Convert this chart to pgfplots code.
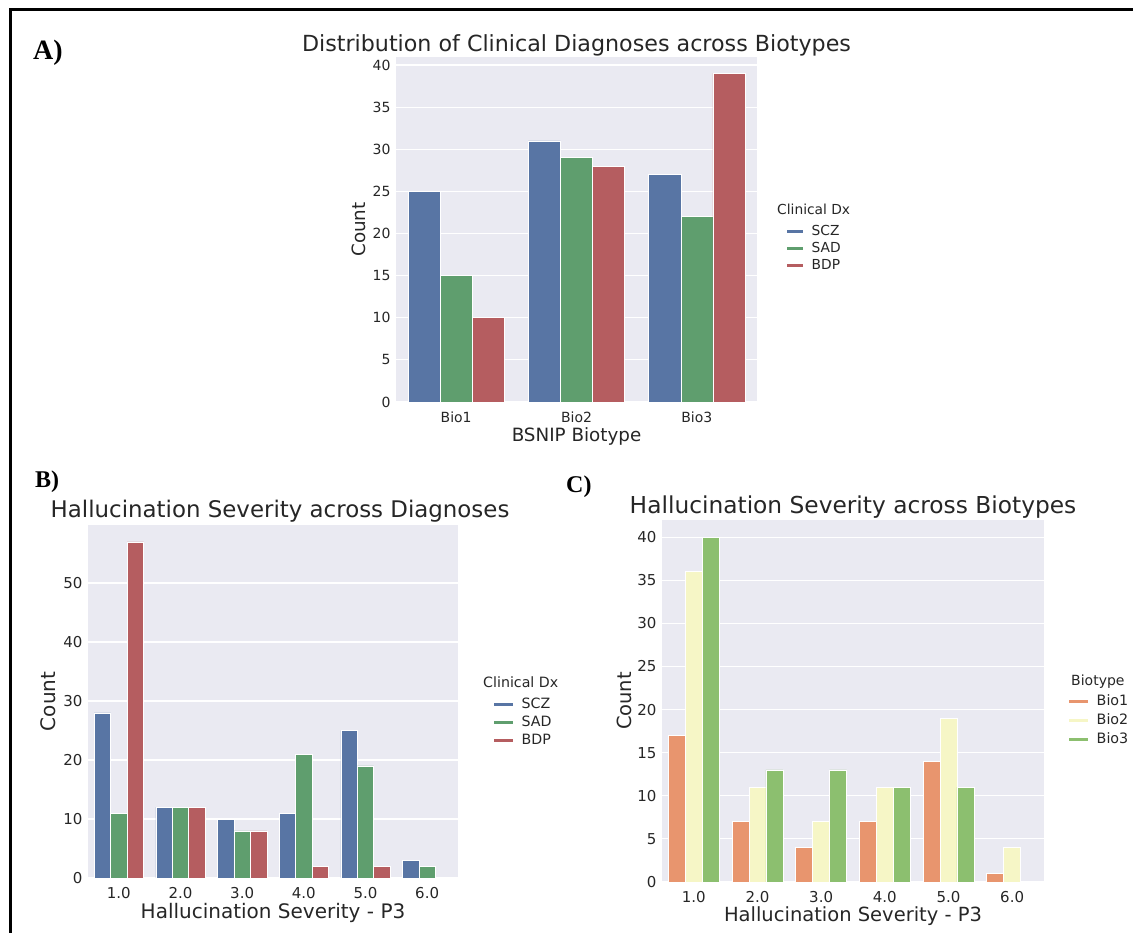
\documentclass[border=0pt]{standalone}
\usepackage{pgfplots}
\pgfplotsset{compat=1.18}
\usepackage{fontspec}
\setmainfont{DejaVu Sans}
\newfontfamily\panelfont{Liberation Serif}
\definecolor{scz}{RGB}{88,117,164}
\definecolor{sad}{RGB}{95,158,110}
\definecolor{bdp}{RGB}{181,93,96}
\definecolor{bioone}{RGB}{232,149,110}
\definecolor{biotwo}{RGB}{246,246,198}
\definecolor{biothree}{RGB}{140,191,111}
\definecolor{bg}{RGB}{234,234,242}
\definecolor{txt}{RGB}{38,38,38}
\newcommand{\fs}[1]{\fontsize{#1}{#1}\selectfont}
\pgfplotsset{
  sns/.style={
    scale only axis,
    axis background/.style={fill=bg},
    axis line style={draw=none},
    major tick length=0pt,
    ymajorgrids,
    major grid style={white, line width=1.2pt},
    ymin=0,
    ybar, bar width=0.2667,
    /pgf/number format/assume math mode=true,
    ticklabel style={text=txt},
    every axis label/.append style={text=txt},
    title style={text=txt, anchor=base, inner sep=0pt},
    xlabel style={anchor=base, inner sep=0pt},
    ylabel style={anchor=south, inner sep=0pt},
    legend cell align=left,
    legend style={draw=none, fill=none, text=txt, inner sep=0pt, anchor=north west,
        nodes={inner sep=0pt, text height=10pt, text depth=2pt}},
    every axis plot/.append style={draw=white, line width=0.5pt},
  }
}
\begin{document}
\begin{tikzpicture}[x=1pt,y=1pt]
\useasboundingbox (0,0) rectangle (1133,933);
% frame
\draw[line width=3.5pt] (10.5,0) -- (10.5,923.5) -- (1133,923.5);
% panel letters
\node[anchor=base west, inner sep=0pt] at (33,873) {\panelfont\bfseries\fs{28}A)};
\node[anchor=base west, inner sep=0pt] at (35,445) {\panelfont\bfseries\fs{24}B)};
\node[anchor=base west, inner sep=0pt] at (566,440) {\panelfont\bfseries\fs{24}C)};

% ---------------- Panel A ----------------
\begin{axis}[sns,
  at={(396pt,531pt)}, anchor=south west,
  width=361pt, height=345pt,
  xmin=-0.5, xmax=2.5, ymax=40.95,
  xtick={0,1,2}, xticklabels={Bio1,Bio2,Bio3},
  ytick={0,5,...,40},
  ticklabel style={font=\fs{14}},
  xticklabel style={yshift=-6pt},
  yticklabel style={xshift=-2pt},
  title={\fs{22.2}Distribution of Clinical Diagnoses across Biotypes},
  title style={at={(axis description cs:0.5,0.998)}},
  xlabel={\fs{18.3}BSNIP Biotype},
  xlabel style={at={(axis description cs:0.5,-0.1159)}},
  ylabel={\fs{18.3}Count},
  ylabel style={at={(axis description cs:-0.0831,0.5)}},
  legend style={at={(axis description cs:1.0803,0.513)}, font=\fs{13.8}, row sep=5pt,
     /tikz/every odd column/.append style={column sep=8pt}},
  legend image code/.code={\fill[#1] (0pt,-2pt) rectangle (17pt,2pt);},
]
\addplot[fill=scz, bar shift=-0.2667] coordinates {(0,25) (1,31) (2,27)};
\addplot[fill=sad, bar shift=0] coordinates {(0,15) (1,29) (2,22)};
\addplot[fill=bdp, bar shift=0.2667] coordinates {(0,10) (1,28) (2,39)};
\legend{SCZ,SAD,BDP}
\end{axis}
\node[anchor=base west, inner sep=0pt, text=txt] at (777,718) {\fs{13.8}Clinical Dx};

% ---------------- Panel B ----------------
\begin{axis}[sns,
  at={(88pt,55pt)}, anchor=south west,
  width=370pt, height=353pt,
  xmin=-0.5, xmax=5.5, ymax=59.85,
  xtick={0,1,2,3,4,5}, xticklabels={1.0,2.0,3.0,4.0,5.0,6.0},
  ytick={0,10,...,50},
  ticklabel style={font=\fs{15}},
  xticklabel style={yshift=-6pt},
  yticklabel style={xshift=-2pt},
  title={\fs{22.9}Hallucination Severity across Diagnoses},
  title style={at={(axis description cs:0.519,1.003)}},
  xlabel={\fs{20}Hallucination Severity - P3},
  xlabel style={at={(axis description cs:0.5,-0.1155)}},
  ylabel={\fs{20}Count},
  ylabel style={at={(axis description cs:-0.0865,0.5)}},
  legend style={at={(axis description cs:1.0946,0.510)}, font=\fs{14.2}, row sep=6pt,
     /tikz/every odd column/.append style={column sep=8pt}},
  legend image code/.code={\fill[#1] (0pt,-2pt) rectangle (20pt,2pt);},
]
\addplot[fill=scz, bar shift=-0.2667] coordinates {(0,28) (1,12) (2,10) (3,11) (4,25) (5,3)};
\addplot[fill=sad, bar shift=0] coordinates {(0,11) (1,12) (2,8) (3,21) (4,19) (5,2)};
\addplot[fill=bdp, bar shift=0.2667] coordinates {(0,57) (1,12) (2,8) (3,2) (4,2)};
\legend{SCZ,SAD,BDP}
\end{axis}
\node[anchor=base west, inner sep=0pt, text=txt] at (483,245) {\fs{14.2}Clinical Dx};

% ---------------- Panel C ----------------
\begin{axis}[sns,
  at={(662pt,51pt)}, anchor=south west,
  width=382pt, height=362pt,
  xmin=-0.5, xmax=5.5, ymax=42,
  xtick={0,1,2,3,4,5}, xticklabels={1.0,2.0,3.0,4.0,5.0,6.0},
  ytick={0,5,...,40},
  ticklabel style={font=\fs{15}},
  xticklabel style={yshift=-6pt},
  yticklabel style={xshift=-2pt},
  title={\fs{23.3}Hallucination Severity across Biotypes},
  title style={at={(axis description cs:0.5,1.0)}},
  xlabel={\fs{19.5}Hallucination Severity - P3},
  xlabel style={at={(axis description cs:0.5,-0.110)}},
  ylabel={\fs{19.5}Count},
  ylabel style={at={(axis description cs:-0.0785,0.5)}},
  legend style={at={(axis description cs:1.0628,0.5166)}, font=\fs{14.3}, row sep=7pt,
     /tikz/every odd column/.append style={column sep=8pt}},
  legend image code/.code={\fill[#1] (0pt,-2pt) rectangle (20pt,2pt);},
]
\addplot[fill=bioone, bar shift=-0.2667] coordinates {(0,17) (1,7) (2,4) (3,7) (4,14) (5,1)};
\addplot[fill=biotwo, bar shift=0] coordinates {(0,36) (1,11) (2,7) (3,11) (4,19) (5,4)};
\addplot[fill=biothree, bar shift=0.2667] coordinates {(0,40) (1,13) (2,13) (3,11) (4,11)};
\legend{Bio1,Bio2,Bio3}
\end{axis}
\node[anchor=base west, inner sep=0pt, text=txt] at (1071,247) {\fs{14}Biotype};
\end{tikzpicture}
\end{document}
